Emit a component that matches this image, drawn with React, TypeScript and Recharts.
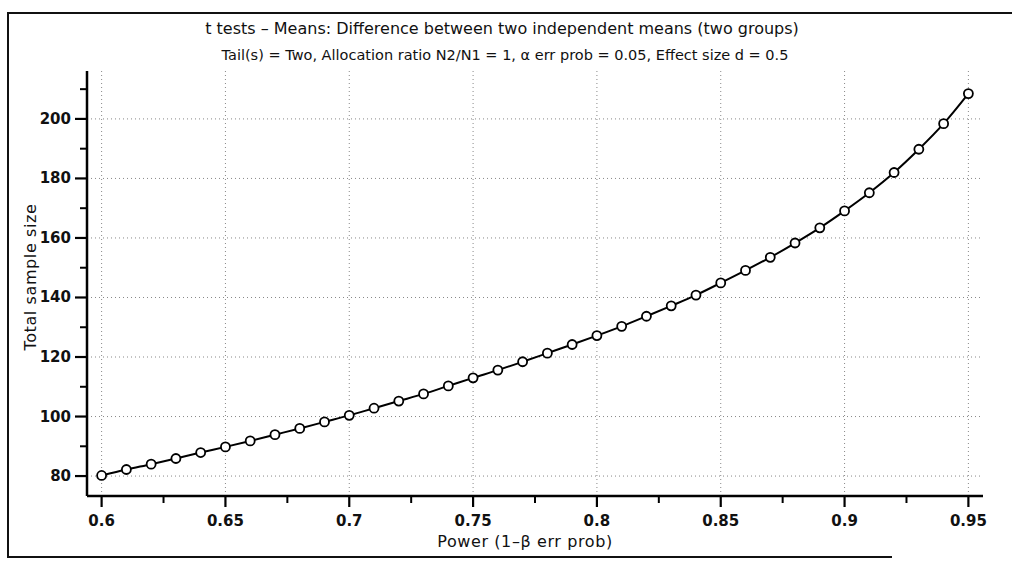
import React from 'react';
import { LineChart, Line, XAxis, YAxis, ReferenceLine } from 'recharts';

// Power (1-β err prob) on x, total sample size on y
const power = [
  0.6, 0.61, 0.62, 0.63, 0.64, 0.65, 0.66, 0.67, 0.68, 0.69,
  0.7, 0.71, 0.72, 0.73, 0.74, 0.75, 0.76, 0.77, 0.78, 0.79,
  0.8, 0.81, 0.82, 0.83, 0.84, 0.85, 0.86, 0.87, 0.88, 0.89,
  0.9, 0.91, 0.92, 0.93, 0.94, 0.95,
];
const totalSampleSize = [
  80.2, 82.2, 84.0, 85.9, 87.9, 89.8, 91.8, 93.9, 96.0, 98.2,
  100.4, 102.8, 105.2, 107.6, 110.3, 113.0, 115.6, 118.4, 121.3, 124.2,
  127.2, 130.3, 133.7, 137.2, 140.8, 144.9, 149.1, 153.5, 158.3, 163.4,
  169.1, 175.2, 182.0, 189.8, 198.4, 208.5,
];

const xMajorTicks = [0.6, 0.65, 0.7, 0.75, 0.8, 0.85, 0.9, 0.95];
const xMinorTicks = [0.625, 0.675, 0.725, 0.775, 0.825, 0.875, 0.925];
const xTickLabels = ['0.6', '0.65', '0.7', '0.75', '0.8', '0.85', '0.9', '0.95'];
const yMajorTicks = [80, 100, 120, 140, 160, 180, 200];
const yMinorTicks = [90, 110, 130, 150, 170, 190, 210];

const chartData = power.map((p, i) => ({ power: p, n: totalSampleSize[i] }));

const FONT = '"DejaVu Sans", "Open Sans", sans-serif';

const XTick = ({ x, y, payload }: any) => {
  const idx = xMajorTicks.indexOf(payload.value);
  if (idx < 0) {
    return <line x1={x} x2={x} y1={y} y2={y + 7} stroke="#000" strokeWidth={2} />;
  }
  return (
    <g>
      <line x1={x} x2={x} y1={y} y2={y + 11} stroke="#000" strokeWidth={2.2} />
      <text x={x} y={y + 30} textAnchor="middle" fontSize={15} fontWeight={600} fill="#111" fontFamily={FONT}>
        {xTickLabels[idx]}
      </text>
    </g>
  );
};

const YTick = ({ x, y, payload }: any) => {
  const major = yMajorTicks.includes(payload.value);
  if (!major) {
    return <line x1={x - 7} x2={x} y1={y} y2={y} stroke="#000" strokeWidth={2} />;
  }
  return (
    <g>
      <line x1={x - 12} x2={x} y1={y} y2={y} stroke="#000" strokeWidth={2.2} />
      <text x={x - 16} y={y + 5} textAnchor="end" fontSize={15} fontWeight={600} fill="#111" fontFamily={FONT}>
        {payload.value}
      </text>
    </g>
  );
};

export default function App() {
  return (
    <div style={{ position: 'absolute', left: 0, top: 0, width: 1012, height: 565, background: '#fff', overflow: 'hidden' }}>
      {/* scanned frame */}
      <div style={{ position: 'absolute', left: 8, top: 12, width: 1004, height: 2, background: '#111' }} />
      <div style={{ position: 'absolute', left: 7, top: 12, width: 2, height: 546, background: '#111' }} />
      <div style={{ position: 'absolute', left: 7, top: 556, width: 885, height: 2, background: '#111' }} />

      <div style={{ position: 'absolute', left: 0, top: 19, width: 1004, textAlign: 'center', fontFamily: FONT, fontSize: 16, color: '#111' }}>
        t tests – Means: Difference between two independent means (two groups)
      </div>
      <div style={{ position: 'absolute', left: 0, top: 47, width: 1010, textAlign: 'center', fontFamily: FONT, fontSize: 14.5, color: '#111' }}>
        Tail(s) = Two, Allocation ratio N2/N1 = 1, α err prob = 0.05, Effect size d = 0.5
      </div>
      <div
        style={{
          position: 'absolute', left: 30, top: 277, transform: 'translate(-50%, -50%) rotate(-90deg)',
          whiteSpace: 'nowrap', fontFamily: FONT, fontSize: 16, letterSpacing: 0.6, color: '#111',
        }}
      >
        Total sample size
      </div>
      <div style={{ position: 'absolute', left: 405, top: 532, width: 240, textAlign: 'center', fontFamily: FONT, fontSize: 16, letterSpacing: 0.6, color: '#111' }}>
        Power (1–β err prob)
      </div>

      <div style={{ position: 'absolute', left: 0, top: 0 }}>
        <LineChart width={1012} height={565} data={chartData} margin={{ top: 71, right: 29, bottom: 39, left: 27 }}>
          {xMajorTicks.map(v => (
            <ReferenceLine key={`vx-${v}`} x={v} stroke="#888" strokeWidth={1} strokeDasharray="1 3" />
          ))}
          {yMajorTicks.map(v => (
            <ReferenceLine key={`hy-${v}`} y={v} stroke="#888" strokeWidth={1} strokeDasharray="1 3" />
          ))}
          <XAxis
            dataKey="power"
            type="number"
            domain={[0.5941, 0.9559]}
            ticks={[...xMajorTicks, ...xMinorTicks].sort((a, b) => a - b)}
            height={30}
            tickSize={0}
            tickMargin={0}
            tickLine={false}
            axisLine={{ stroke: '#000', strokeWidth: 2.5 }}
            tick={(props: any) => <XTick {...props} />}
            interval={0}
            allowDataOverflow
          />
          <YAxis
            type="number"
            domain={[73.3, 216.1]}
            ticks={[...yMajorTicks, ...yMinorTicks].sort((a, b) => a - b)}
            width={60}
            tickSize={0}
            tickMargin={0}
            tickLine={false}
            axisLine={{ stroke: '#000', strokeWidth: 2.5 }}
            tick={(props: any) => <YTick {...props} />}
            interval={0}
            allowDataOverflow
          />
          <Line
            type="monotone"
            dataKey="n"
            stroke="#000"
            strokeWidth={2}
            dot={{ r: 4.5, fill: '#fff', stroke: '#000', strokeWidth: 1.8 }}
            isAnimationActive={false}
          />
        </LineChart>
      </div>
    </div>
  );
}
